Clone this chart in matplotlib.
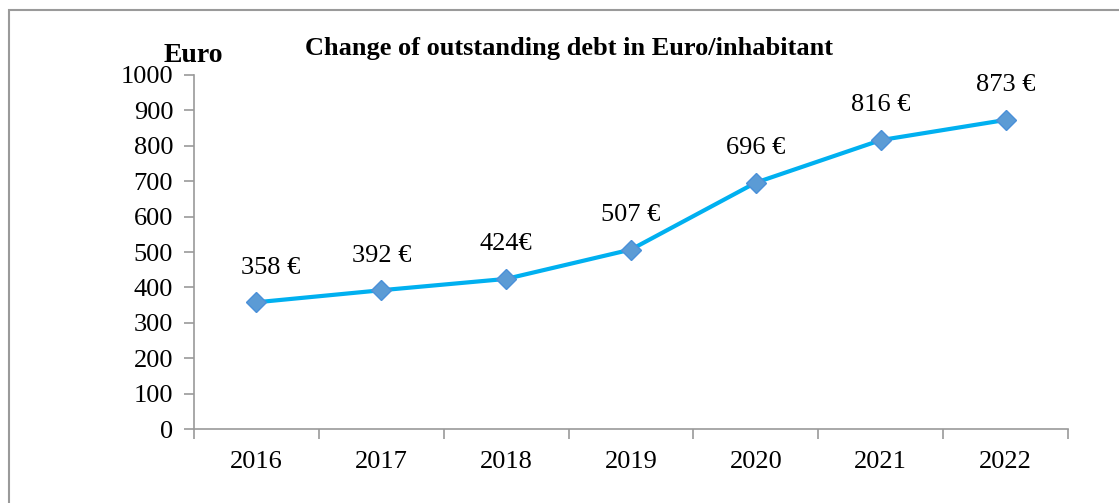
import matplotlib
matplotlib.use("Agg")
import matplotlib.pyplot as plt
import matplotlib.patches as patches
from matplotlib.ticker import FixedLocator

# Data
years = ["2016", "2017", "2018", "2019", "2020", "2021", "2022"]
debt = [358, 392, 424, 507, 696, 816, 873]
labels = ["358 €", "392 €", "424€", "507 €", "696 €", "816 €", "873 €"]

plt.rcParams['font.family'] = ['Liberation Serif', 'DejaVu Serif']

fig = plt.figure(figsize=(11.19, 5.03), dpi=100)
ax = fig.add_axes([0.1734, 0.1471, 0.7810, 0.7038])

# outer chart border
border = patches.Rectangle((9 / 1119, -0.05), 1.2, 1 - 10 / 503 + 0.05,
                           transform=fig.transFigure, fill=False,
                           edgecolor='#9a9a9a', linewidth=1.5)
fig.patches.append(border)

x = list(range(len(years)))
ax.plot(x, debt, color='#00B0F0', linewidth=3, marker='D', markersize=10,
        markerfacecolor='#5B9BD5', markeredgecolor='#4A90D9', zorder=3)

for i, (v, lab) in enumerate(zip(debt, labels)):
    dx = 10 if i == 0 else 0
    ax.annotate(lab, (i, v), xytext=(dx, 25), textcoords='offset points',
                ha='center', va='center', fontsize=19)

ax.set_xlim(-0.5, len(years) - 0.5)
ax.set_ylim(0, 1000)
ax.set_yticks(range(0, 1001, 100))
ax.set_xticks(x)
ax.set_xticklabels(years)
ax.xaxis.set_minor_locator(FixedLocator([i - 0.5 for i in range(len(years) + 1)]))
ax.tick_params(axis='x', which='major', length=0, pad=16, labelsize=19)
ax.tick_params(axis='x', which='minor', length=7, color='#9a9a9a', width=1.2)
ax.tick_params(axis='y', length=7, color='#9a9a9a', width=1.2, pad=8, labelsize=19)

for s in ['top', 'right']:
    ax.spines[s].set_visible(False)
for s in ['left', 'bottom']:
    ax.spines[s].set_color('#9a9a9a')
    ax.spines[s].set_linewidth(1.2)

fig.text(569 / 1119, 1 - 48 / 503, 'Change of outstanding debt in Euro/inhabitant',
         ha='center', va='center', fontsize=19, fontweight='bold')
fig.text(193 / 1119, 1 - 56 / 503, 'Euro', ha='center', va='center',
         fontsize=20, fontweight='bold')

fig.savefig('out.png', dpi=100)
